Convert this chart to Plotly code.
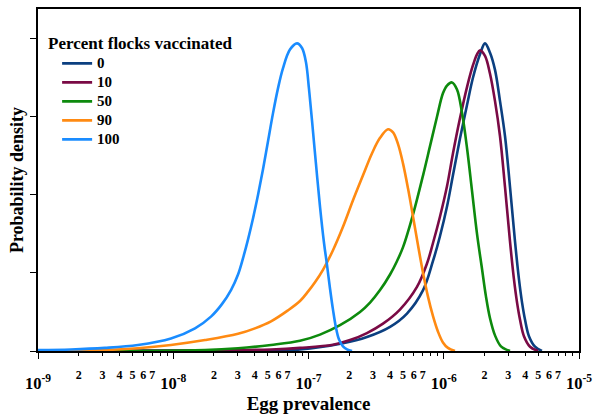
import plotly.graph_objects as go

# log10(egg prevalence) and probability density
series_names = ["0", "10", "50", "90", "100"]
series_colors = ["#0b3f80", "#7a0a45", "#0d8a0d", "#ff8a12", "#1a8cff"]

log_prev_0 = [-9.0, -7.433, -7.063, -6.745, -6.568, -6.397, -6.272, -6.153, -6.080, -6.028, -5.976, -5.932,
              -5.880, -5.828, -5.784, -5.732, -5.695, -5.658, -5.621, -5.584, -5.547, -5.510, -5.473, -5.444,
              -5.421, -5.399, -5.370, -5.325, -5.274]
dens_0 = [0.0, 0.008, 0.02, 0.10, 0.18, 0.31, 0.48, 0.78, 1.15, 1.47, 1.85, 2.25,
          2.72, 3.15, 3.5, 3.8, 3.94, 3.82, 3.6, 3.2, 2.75, 2.1, 1.4, 0.92,
          0.62, 0.4, 0.19, 0.055, 0.0]

log_prev_10 = [-9.0, -7.765, -7.277, -7.063, -6.819, -6.693, -6.568, -6.449, -6.324, -6.198, -6.124, -6.080,
               -6.028, -5.976, -5.932, -5.880, -5.828, -5.784, -5.754, -5.732, -5.695, -5.658, -5.621, -5.584,
               -5.547, -5.510, -5.481, -5.458, -5.436, -5.407, -5.362, -5.303]
dens_10 = [0.0, 0.005, 0.02, 0.04, 0.08, 0.14, 0.23, 0.35, 0.53, 0.82, 1.12, 1.38,
           1.72, 2.11, 2.53, 2.98, 3.38, 3.66, 3.8, 3.85, 3.78, 3.55, 3.2, 2.75,
           2.1, 1.4, 0.92, 0.62, 0.4, 0.19, 0.055, 0.0]

log_prev_50 = [-9.0, -7.765, -7.521, -7.277, -7.063, -6.915, -6.767, -6.619, -6.545, -6.471, -6.397, -6.346,
               -6.301, -6.227, -6.153, -6.102, -6.050, -6.006, -5.976, -5.939, -5.902, -5.865, -5.828, -5.791,
               -5.754, -5.717, -5.688, -5.658, -5.621, -5.577, -5.510]
dens_50 = [0.0, 0.013, 0.035, 0.077, 0.13, 0.21, 0.33, 0.50, 0.62, 0.78, 0.98, 1.15,
           1.33, 1.75, 2.25, 2.62, 3.0, 3.3, 3.4, 3.44, 3.35, 3.05, 2.6, 2.05,
           1.5, 1.05, 0.7, 0.42, 0.2, 0.06, 0.0]

log_prev_90 = [-9.0, -8.505, -8.261, -8.017, -7.765, -7.521, -7.396, -7.277, -7.152, -7.063, -7.004, -6.952,
               -6.893, -6.819, -6.745, -6.671, -6.597, -6.531, -6.471, -6.412, -6.375, -6.338, -6.301, -6.264,
               -6.227, -6.190, -6.153, -6.117, -6.080, -6.043, -6.006, -5.969, -5.917]
dens_90 = [0.005, 0.013, 0.035, 0.077, 0.14, 0.22, 0.29, 0.38, 0.52, 0.64, 0.76, 0.88,
           1.04, 1.29, 1.59, 1.93, 2.25, 2.53, 2.73, 2.84, 2.8, 2.65, 2.4, 2.08,
           1.72, 1.35, 1.0, 0.7, 0.45, 0.25, 0.11, 0.04, 0.0]

log_prev_100 = [-9.0, -8.756, -8.505, -8.261, -8.017, -7.839, -7.721, -7.640, -7.573, -7.521, -7.484, -7.447,
                -7.410, -7.373, -7.336, -7.299, -7.263, -7.226, -7.189, -7.137, -7.085, -7.048, -7.019, -6.996,
                -6.974, -6.945, -6.915, -6.885, -6.863, -6.841, -6.819, -6.797, -6.775, -6.745, -6.715, -6.678]
dens_100 = [0.013, 0.02, 0.04, 0.077, 0.16, 0.29, 0.44, 0.6, 0.78, 0.98, 1.19, 1.43,
            1.70, 2.0, 2.33, 2.69, 3.04, 3.36, 3.62, 3.86, 3.94, 3.88, 3.7, 3.35,
            2.95, 2.4, 1.85, 1.38, 1.1, 0.8, 0.53, 0.3, 0.15, 0.06, 0.02, 0.0]

series_logx = [log_prev_0, log_prev_10, log_prev_50, log_prev_90, log_prev_100]
series_dens = [dens_0, dens_10, dens_50, dens_90, dens_100]

decade_exps = [-9, -8, -7, -6, -5]
minor_mults = [2, 3, 4, 5, 6, 7, 8, 9]
labeled_mults = [2, 3, 4, 5, 6, 7]
y_ticks = [0, 1, 2, 3, 4]

FONT = "Liberation Serif"

fig = go.Figure()
for name, color, lx, dy in zip(series_names, series_colors, series_logx, series_dens):
    fig.add_trace(go.Scatter(
        x=[10 ** v for v in lx], y=dy, mode="lines",
        name="<span style='font-size:15px'>%s</span>" % name,
        line=dict(color=color, width=2.6, shape="spline", smoothing=1.0),
    ))

# invisible helper trace for the minor-label axis
fig.add_trace(go.Scatter(x=[1e-9, 1e-5], y=[None, None], xaxis="x2", showlegend=False,
                         hoverinfo="skip", mode="lines"))

major_vals = [10.0 ** e for e in decade_exps]
major_text = ["10<sup>%d</sup>" % e for e in decade_exps]
minor_vals = [m * 10.0 ** e for e in decade_exps[:-1] for m in minor_mults]
lab_vals = [m * 10.0 ** e for e in decade_exps[:-1] for m in labeled_mults]
lab_text = [str(m) for e in decade_exps[:-1] for m in labeled_mults]

fig.update_layout(
    width=593, height=416,
    margin=dict(l=38, r=14, t=9, b=65),
    paper_bgcolor="white", plot_bgcolor="white",
    font=dict(family=FONT, color="black", size=15, weight="bold"),
    xaxis=dict(
        type="log", range=[-9, -5], showgrid=False, zeroline=False,
        showline=True, linecolor="black", linewidth=1.5, mirror=True,
        tickmode="array", tickvals=major_vals, ticktext=major_text,
        ticks="outside", ticklen=6, tickwidth=1, tickcolor="black",
        tickfont=dict(family=FONT, size=16.5, weight="bold"),
        ticklabelstandoff=10,
        minor=dict(tickmode="array", tickvals=minor_vals, ticks="outside", ticklen=3,
                   tickwidth=1, tickcolor="black", showgrid=False),
        title=dict(text="Egg prevalence", font=dict(family=FONT, size=19, weight="bold"), standoff=3),
        automargin=False,
    ),
    xaxis2=dict(
        type="log", range=[-9, -5], overlaying="x", anchor="y", side="bottom",
        showgrid=False, zeroline=False, showline=False,
        tickmode="array", tickvals=lab_vals, ticktext=lab_text, ticks="",
        tickfont=dict(family=FONT, size=12, weight="bold"),
        ticklabelstandoff=15, automargin=False,
    ),
    yaxis=dict(
        range=[0, 4.38], showgrid=False, zeroline=False,
        showline=True, linecolor="black", linewidth=1.5, mirror=True,
        tickmode="array", tickvals=y_ticks, ticks="outside", ticklen=6, tickwidth=1,
        tickcolor="black", showticklabels=False,
        title=dict(text="Probability density", font=dict(family=FONT, size=18, weight="bold"), standoff=2),
        automargin=False,
    ),
    legend=dict(
        x=0.015, y=0.948, xanchor="left", yanchor="top",
        bgcolor="rgba(0,0,0,0)", borderwidth=0,
        title=dict(text="Percent flocks vaccinated", font=dict(family=FONT, size=17, weight="bold")),
        font=dict(family=FONT, size=11.5, weight="bold"),
        indentation=11, tracegroupgap=0,
    ),
    showlegend=True,
)

fig.write_html("out.html")
